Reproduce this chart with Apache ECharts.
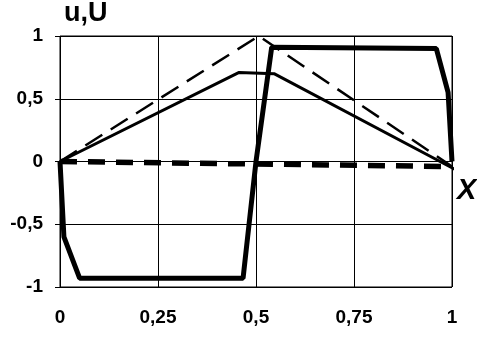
<!DOCTYPE html>
<html><head><meta charset="utf-8">
<script src="https://cdn.jsdelivr.net/npm/echarts@6/dist/echarts.min.js"></script>
<style>html,body{margin:0;padding:0;background:#fff}#c{width:477px;height:340px}</style>
</head><body><div id="c"></div>
<script>
// Thick solid curve (u)
const thickSolid = [[0,0],[0.01,-0.6],[0.05,-0.93],[0.467,-0.93],[0.5,0],[0.54,0.91],[0.96,0.90],[0.99,0.55],[1.0,0]];
// Thin solid curve
const thinSolid = [[0,0],[0.457,0.71],[0.546,0.70],[1.03,-0.10]];
// Thin dashed curve (U)
const thinDashed = [[0,0],[0.507,1.0],[1.0,-0.04]];
// Thick dashed curve near zero
const thickDashed = [[0,0],[0.5,-0.02],[1.0,-0.04]];
const xTicks = [0,0.25,0.5,0.75,1];
const yTicks = [-1,-0.5,0,0.5,1];
const yTitle = 'u,U';
const xTitle = 'X';

const fmt = v => String(v).replace('.', ',');
const labelStyle = {color:'#000', fontFamily:'Liberation Sans, Arial, sans-serif', fontWeight:'bold', fontSize:19};
const chart = echarts.init(document.getElementById('c'));
chart.setOption({
  animation:false,
  backgroundColor:'#fff',
  grid:{left:60, right:25, top:36, bottom:53, show:true, borderColor:'#000', borderWidth:1},
  xAxis:{type:'value', min:0, max:1, interval:0.25,
    axisLine:{show:false},
    axisTick:{show:true, length:7, lineStyle:{color:'#000'}},
    splitLine:{show:true, lineStyle:{color:'#000', width:1}},
    axisLabel:Object.assign({formatter:fmt, margin:21}, labelStyle)},
  yAxis:{type:'value', min:-1, max:1, interval:0.5,
    axisLine:{show:false},
    axisTick:{show:true, length:5, lineStyle:{color:'#000'}},
    splitLine:{show:true, lineStyle:{color:'#000', width:1}},
    axisLabel:Object.assign({formatter:fmt, margin:17}, labelStyle)},
  graphic:[
    {type:'text', left:64, top:0, style:{text:yTitle, fill:'#000', font:'bold 27px "Liberation Sans", Arial, sans-serif'}},
    {type:'text', left:457, top:176, style:{text:xTitle, fill:'#000', font:'italic bold 29px "Liberation Sans", Arial, sans-serif'}}
  ],
  series:[
    {type:'line', data:thickDashed, symbol:'none', clip:false, lineStyle:{color:'#000', width:5.5, type:[17,11]}},
    {type:'line', data:thinDashed, symbol:'none', clip:false, lineStyle:{color:'#000', width:2.5, type:[20,10]}},
    {type:'line', data:thinSolid, symbol:'none', clip:false, lineStyle:{color:'#000', width:3}},
    {type:'line', data:thickSolid, symbol:'none', clip:false, lineStyle:{color:'#000', width:5}}
  ]
});
</script></body></html>
